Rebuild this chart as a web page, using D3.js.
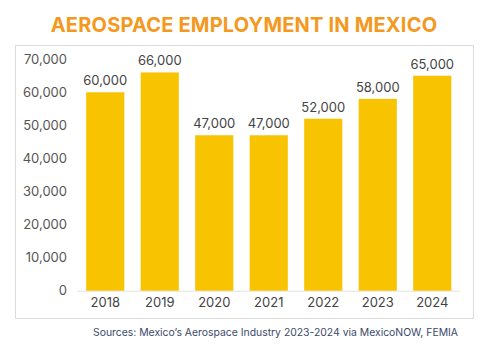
<!DOCTYPE html>
<html>
<head>
<meta charset="utf-8">
<script src="https://cdn.jsdelivr.net/npm/d3@7"></script>
<style>
  body { margin: 0; background: #fff; }
  svg { display: block; font-family: Inter, "Open Sans", sans-serif; }
</style>
</head>
<body>
<div id="chart"></div>
<script>
const years = ['2018', '2019', '2020', '2021', '2022', '2023', '2024'];
const employees = [60000, 66000, 47000, 47000, 52000, 58000, 65000];
const yTicks = [0, 10000, 20000, 30000, 40000, 50000, 60000, 70000];

const width = 489;
const height = 346;

const svg = d3.select('#chart')
    .append('svg')
    .attr('width', width)
    .attr('height', height);

// title
svg.append('text')
    .attr('x', 244)
    .attr('y', 32)
    .attr('text-anchor', 'middle')
    .attr('font-size', 20)
    .attr('font-weight', 700)
    .attr('letter-spacing', 0.2)
    .attr('fill', '#F4991E')
    .text('AEROSPACE EMPLOYMENT IN MEXICO');

// frame around the plot
svg.append('rect')
    .attr('x', 15.5)
    .attr('y', 45.5)
    .attr('width', 458)
    .attr('height', 273)
    .attr('fill', 'none')
    .attr('stroke', '#dcdcdc');

const xScale = d3.scaleBand()
    .domain(years)
    .range([78, 459.5])
    .paddingInner(0.3)
    .paddingOuter(0.15);

const yScale = d3.scaleLinear()
    .domain([0, 70000])
    .range([290.7, 59.2]);

const fmt = d3.format(',');

// y axis labels
const yAxis = d3.axisLeft(yScale)
    .tickValues(yTicks)
    .tickFormat(fmt)
    .tickSize(0)
    .tickPadding(0);

svg.append('g')
    .attr('id', 'y-axis')
    .attr('transform', 'translate(67, 0)')
    .call(yAxis)
    .call(g => g.select('.domain').remove())
    .call(g => g.selectAll('text')
        .attr('font-size', 13)
        .attr('font-family', 'Inter, sans-serif')
        .attr('fill', '#555'));

// baseline
svg.append('line')
    .attr('x1', 77)
    .attr('x2', 460)
    .attr('y1', yScale(0) + 0.5)
    .attr('y2', yScale(0) + 0.5)
    .attr('stroke', '#e2e2e2');

// x axis labels
const xAxis = d3.axisBottom(xScale)
    .tickSize(0)
    .tickPadding(0);

svg.append('g')
    .attr('id', 'x-axis')
    .attr('transform', 'translate(0, 298)')
    .call(xAxis)
    .call(g => g.select('.domain').remove())
    .call(g => g.selectAll('text')
        .attr('font-size', 13)
        .attr('font-family', 'Inter, sans-serif')
        .attr('fill', '#444'));

const data = years.map((y, i) => ({ year: y, value: employees[i] }));

svg.selectAll('.bar')
    .data(data)
    .enter()
    .append('rect')
    .attr('class', 'bar')
    .attr('x', d => xScale(d.year))
    .attr('y', d => yScale(d.value))
    .attr('width', xScale.bandwidth())
    .attr('height', d => yScale(0) - yScale(d.value))
    .attr('fill', '#F8C300');

svg.selectAll('.value')
    .data(data)
    .enter()
    .append('text')
    .attr('class', 'value')
    .attr('x', d => xScale(d.year) + xScale.bandwidth() / 2)
    .attr('y', d => yScale(d.value) - 7)
    .attr('text-anchor', 'middle')
    .attr('font-size', 13)
    .attr('fill', '#444')
    .text(d => fmt(d.value));

// source note
svg.append('text')
    .attr('x', 458)
    .attr('y', 336)
    .attr('text-anchor', 'end')
    .attr('font-size', 10.4)
    .attr('fill', '#3b4a6b')
    .text('Sources: Mexico’s Aerospace Industry 2023-2024 via MexicoNOW, FEMIA');
</script>
</body>
</html>
